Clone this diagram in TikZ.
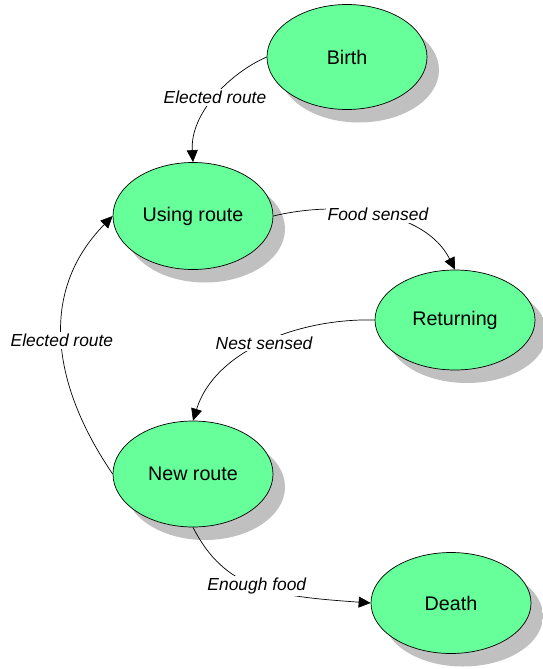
\documentclass[tikz,border=0pt]{standalone}
\usepackage{fontspec}
\setmainfont{Liberation Sans}
\usetikzlibrary{arrows.meta,shapes.geometric}

\definecolor{statefill}{RGB}{102,255,153}
% soft grey drop shadow, lighter towards the rim
\pgfdeclareradialshading{shadowfade}{\pgfpoint{0bp}{0bp}}{%
  color(0bp)=(black!24); color(38bp)=(black!25); color(50bp)=(black!12); color(60bp)=(black!12)}

\tikzset{
  state/.style={ellipse, draw=black, line width=0.7pt, fill=statefill,
    minimum width=160pt, inner sep=0pt,
    font=\fontsize{19.7}{22}\selectfont},
  stateshadow/.style={ellipse, draw=none, shading=shadowfade,
    minimum width=160pt, inner sep=0pt},
  edge/.style={draw=black, line width=0.7pt,
    -{Triangle[length=12pt,width=11pt]}},
  lbl/.style={fill=white, inner sep=2pt,
    font=\itshape\fontsize{17.4}{20}\selectfont}
}

% state with its shadow: name, x, y, height, text
\newcommand\statenode[5]{%
  \node[stateshadow, minimum height=#4pt] (#1-shadow) at ({#2+12},{#3+13}) {};
  \node[state, minimum height=#4pt] (#1) at (#2,#3) {#5};}

\begin{document}
\begin{tikzpicture}[x=1pt, y=-1pt]
  \useasboundingbox (0,0) rectangle (543,669);

  \statenode{birth}{347}{57}{105}{Birth}
  \statenode{using}{193}{216}{107}{Using route}
  \statenode{returning}{455}{320}{100}{Returning}
  \statenode{newroute}{193}{474}{106}{New route}
  \statenode{death}{451}{603}{101}{Death}

  \draw[edge] (birth.west) .. controls (230,73) and (190,113) .. (using.north)
    node[lbl, pos=0.5] (l-birth) {Elected route};
  \draw[edge] (using.east) .. controls (340,200) and (425,210) .. (returning.north)
    node[lbl, pos=0.5] (l-food) {Food sensed};
  \draw[edge] (returning.west) .. controls (300,318) and (215,350) .. (newroute.north)
    node[lbl, pos=0.5] (l-nest) {Nest sensed};
  \draw[edge] (newroute.west) .. controls (52,385) and (38,292) .. (using.west)
    node[lbl, pos=0.5] (l-elect) {Elected route};
  \draw[edge] (newroute.south) .. controls (225,590) and (272,596) .. (death.west)
    node[lbl, pos=0.5] (l-food2) {Enough food};
\end{tikzpicture}
\end{document}
